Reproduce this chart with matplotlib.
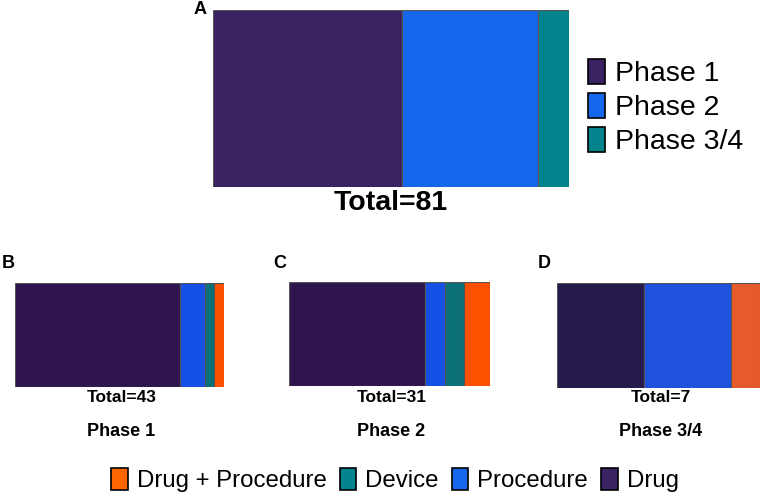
import matplotlib
matplotlib.use("Agg")
import matplotlib.pyplot as plt
from matplotlib.patches import Patch

plt.rcParams['font.family'] = ['Liberation Sans', 'DejaVu Sans']

# panel A: trials by phase
phases = ["Phase 1", "Phase 2", "Phase 3/4"]
phase_counts = [43, 31, 7]

# panels B-D: intervention type within each phase
types = ["Drug", "Procedure", "Device", "Drug + Procedure"]
phase1_types = [34, 5, 2, 2]
phase2_types = [21, 3, 3, 4]
phase34_types = [3, 3, 0, 1]

colA = ["#3b2263", "#1467eb", "#00838a"]
colBC = ["#2e1550", "#1450e6", "#0b7078", "#fd5000"]
colD = ["#261a4c", "#1f52de", "#0b7078", "#e85a2b"]
leg_cols = {"Drug": "#3b2263", "Procedure": "#1467eb", "Device": "#00838a",
            "Drug + Procedure": "#ff6600"}

W, H = 762, 496
fig = plt.figure(figsize=(W / 100, H / 100), dpi=100)


def px_axes(x0, y0, x1, y1):
    return fig.add_axes([x0 / W, 1 - y1 / H, (x1 - x0) / W, (y1 - y0) / H])


def stacked(ax, vals, cols):
    left = 0
    for v, c in zip(vals, cols):
        if v > 0:
            ax.barh(0, v, left=left, height=1, color=c, edgecolor="#555555", linewidth=0.8)
        left += v
    ax.set_xlim(0, sum(vals))
    ax.set_ylim(-0.5, 0.5)
    ax.axis("off")


axA = px_axes(213, 10, 569, 187)
stacked(axA, phase_counts, colA)
fig.text(200 / W, 1 - 10 / H, "A", fontsize=13, fontweight="bold", ha="center", va="center")
fig.text(391 / W, 1 - 203 / H, "Total=%d" % sum(phase_counts), fontsize=20.5,
         fontweight="bold", ha="center", va="center")

legA = fig.legend(handles=[Patch(facecolor=c, edgecolor="black", linewidth=1.2) for c in colA],
                  labels=phases, loc="center left", bbox_to_anchor=(588 / W, 1 - 107 / H),
                  fontsize=20.5, frameon=False, handlelength=0.6, handleheight=1.0,
                  handletextpad=0.36, labelspacing=0.2, borderpad=0, borderaxespad=0)

panels = [
    ((15, 283, 224, 387), phase1_types, colBC, "B", 8, "Phase 1"),
    ((289, 282, 490, 386), phase2_types, colBC, "C", 280, "Phase 2"),
    ((557, 283, 760, 388), phase34_types, colD, "D", 544, "Phase 3/4"),
]
for (x0, y0, x1, y1), vals, cols, lab, lx, name in panels:
    ax = px_axes(x0, y0, x1, y1)
    stacked(ax, vals, cols)
    cx = (x0 + x1) / 2 + 2
    fig.text(lx / W, 1 - 264 / H, lab, fontsize=13, fontweight="bold", ha="center", va="center")
    fig.text(cx / W, 1 - 398 / H, "Total=%d" % sum(vals), fontsize=12.5,
             fontweight="bold", ha="center", va="center")
    fig.text(cx / W, 1 - 431 / H, name, fontsize=13, fontweight="bold",
             ha="center", va="center")

order = ["Drug + Procedure", "Device", "Procedure", "Drug"]
fig.legend(handles=[Patch(facecolor=leg_cols[t], edgecolor="black", linewidth=1.2) for t in order],
           labels=order, loc="center", bbox_to_anchor=(395 / W, 1 - 480 / H), ncol=4,
           fontsize=17.3, frameon=False, handlelength=0.68, handleheight=1.0,
           handletextpad=0.38, columnspacing=0.55, borderpad=0, borderaxespad=0)

fig.savefig("out.png", dpi=100, facecolor="white")
